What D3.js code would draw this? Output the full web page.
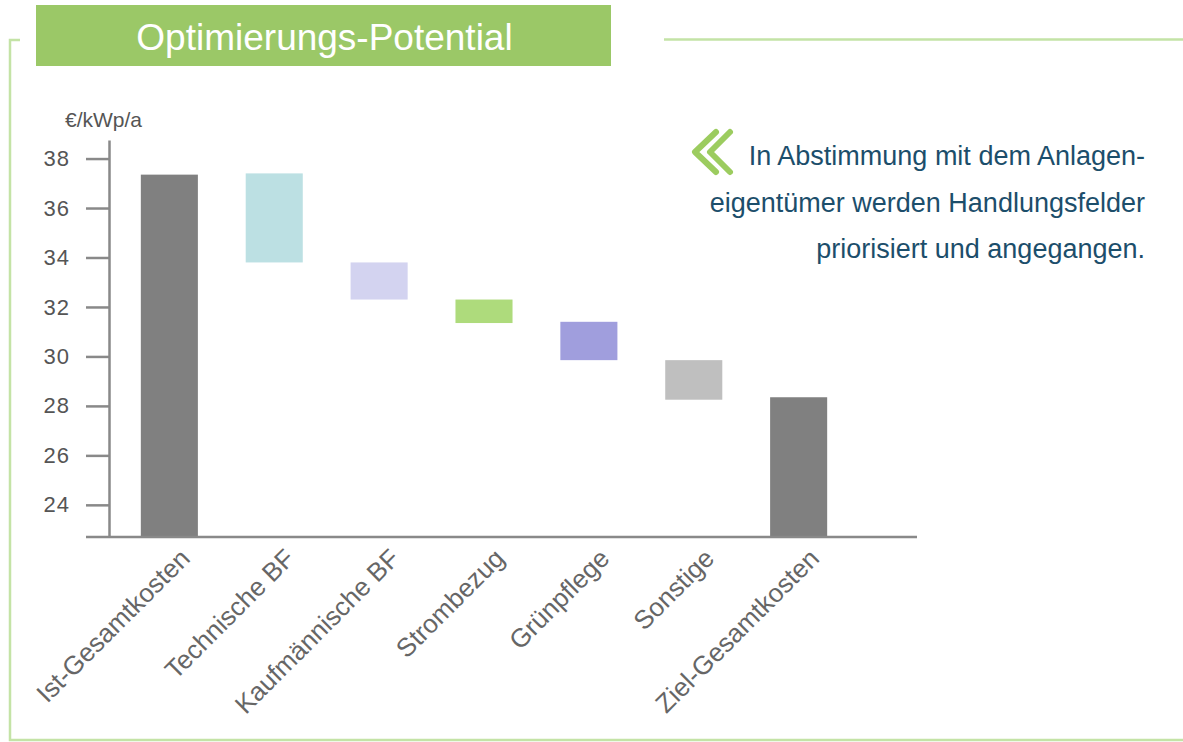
<!DOCTYPE html>
<html>
<head>
<meta charset="utf-8">
<script src="https://cdn.jsdelivr.net/npm/d3@7"></script>
<style>
  body { margin: 0; background: #fff; }
  svg { display: block; font-family: "Liberation Sans", Arial, sans-serif; }
</style>
</head>
<body>
<div id="chart"></div>
<script>
// categories of the waterfall
const categories = ["Ist-Gesamtkosten", "Technische BF", "Kaufmännische BF", "Strombezug", "Grünpflege", "Sonstige", "Ziel-Gesamtkosten"];
// top and bottom of every bar (null bottom = bar from axis)
const highValues = [37.35, 37.4, 33.8, 32.3, 31.4, 29.85, 28.35];
const lowValues = [null, 33.8, 32.3, 31.35, 29.85, 28.25, null];
const barColors = ["#808080", "#bce0e3", "#d3d3f0", "#aedb7c", "#a09edd", "#bfbfbf", "#808080"];
const yTicks = [24, 26, 28, 30, 32, 34, 36, 38];
const noteLines = ["In Abstimmung mit dem Anlagen-", "eigentümer werden Handlungsfelder", "priorisiert und angegangen."];

function run_chart(){
const width = 1183,
    height = 742,
    yMin = 22.7,
    yMax = 38.75;

let svg = d3.select("#chart")
    .append("svg")
    .attr("width", width)
    .attr("height", height);

// green frame
const frame = "#c4e3a6";
svg.append("path")
    .attr("d", "M20,40 H10 V740 H1183 M664,39.5 H1183")
    .attr("fill", "none")
    .attr("stroke", frame)
    .attr("stroke-width", 2.5);

// title box
svg.append("rect")
    .attr("x", 36).attr("y", 5)
    .attr("width", 575).attr("height", 61)
    .attr("fill", "#9bc867");
svg.append("text")
    .attr("x", 324.5).attr("y", 50)
    .attr("text-anchor", "middle")
    .attr("fill", "#fff")
    .style("font-size", "37px")
    .text("Optimierungs-Potential");

let x = d3.scaleBand()
    .domain(categories)
    .range([93, 875])
    .paddingInner(0.456)
    .paddingOuter(0.456);

let y = d3.scaleLinear()
    .domain([yMin, yMax])
    .range([537, 140]);

// y axis
let yAxis = svg.append("g")
    .attr("transform", "translate(109,0)")
    .call(d3.axisLeft(y).tickValues(yTicks).tickSize(23).tickPadding(16).tickSizeOuter(0));
yAxis.selectAll("line, path").attr("stroke", "#898989").attr("stroke-width", 2.5);
yAxis.selectAll("text")
    .attr("fill", "#555")
    .style("font-size", "22px")
    .style("letter-spacing", "1px")
    .style("font-family", "'Liberation Sans', Arial, sans-serif");

svg.append("text")
    .attr("x", 65).attr("y", 127)
    .attr("fill", "#555")
    .style("font-size", "21px")
    .text("€/kWp/a");

// bars
svg.selectAll(".bar")
    .data(categories)
    .join("rect")
    .attr("class", "bar")
    .attr("x", d => x(d))
    .attr("width", x.bandwidth())
    .attr("y", (d, i) => y(highValues[i]))
    .attr("height", (d, i) => y(lowValues[i] === null ? yMin : lowValues[i]) - y(highValues[i]))
    .attr("fill", (d, i) => barColors[i]);

// x axis baseline + labels
let xAxis = svg.append("g")
    .attr("transform", "translate(0,537)")
    .call(d3.axisBottom(x).tickSize(0).tickSizeOuter(0));
xAxis.select(".domain").remove();
xAxis.append("line")
    .attr("x1", 86).attr("x2", 917)
    .attr("stroke", "#898989")
    .attr("stroke-width", 2.5);
xAxis.selectAll(".tick text")
    .attr("y", 0).attr("dy", 0)
    .attr("transform", "translate(22,23) rotate(-45)")
    .style("text-anchor", "end")
    .attr("fill", "#666")
    .style("font-size", "26px")
    .style("font-family", "'Liberation Sans', Arial, sans-serif");

// side note with chevrons
svg.append("path")
    .attr("d", "M716,132 L695,152 L716,172 M730,132 L710,152 L730,172")
    .attr("fill", "none")
    .attr("stroke", "#9ccc5f")
    .attr("stroke-width", 6)
    .attr("stroke-linecap", "round")
    .attr("stroke-linejoin", "round");

svg.append("g")
    .selectAll("text")
    .data(noteLines)
    .join("text")
    .attr("x", 1145)
    .attr("y", (d, i) => 165 + i * 46.5)
    .attr("text-anchor", "end")
    .attr("fill", "#1c4e6b")
    .style("font-size", "27px")
    .text(d => d);
}
run_chart()
</script>
</body>
</html>
